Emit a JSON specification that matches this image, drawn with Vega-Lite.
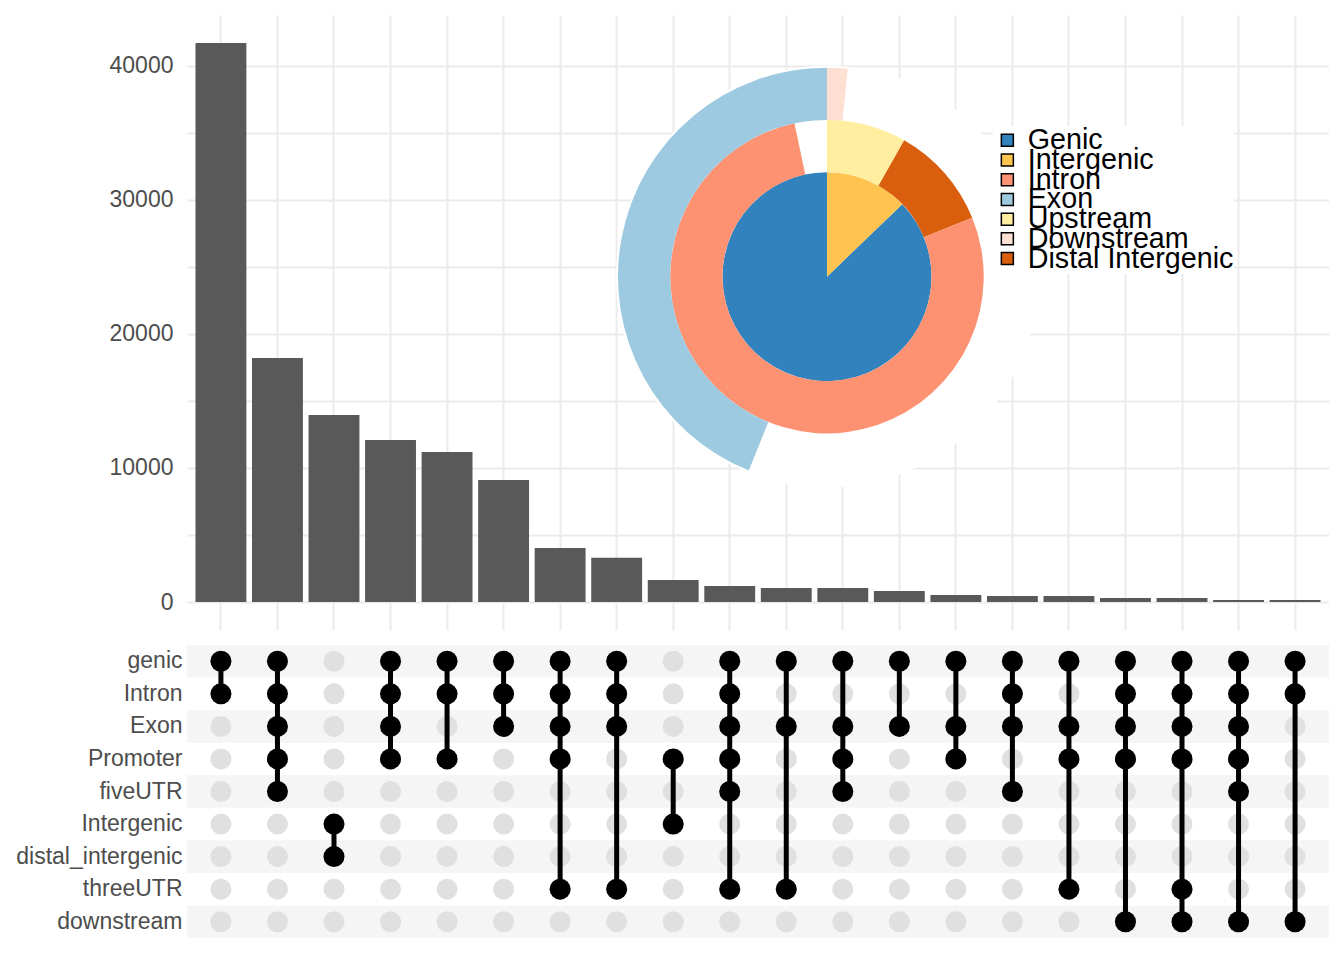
{
  "$schema": "https://vega.github.io/schema/vega-lite/v6.json",
  "autosize": {"type": "pad"},
  "padding": {"left": 15, "top": 15, "right": 0, "bottom": 0},
  "background": "white",
  "bounds": "flush",
  "spacing": 15,
  "config": {
    "view": {"stroke": null},
    "font": "Liberation Sans",
    "axis": {"labelFont": "Liberation Sans"},
    "legend": {"labelFont": "Liberation Sans", "rowPadding": -10.3, "gridAlign": "none"}
  },
  "datasets": {
    "bars": [
      {"c": 1, "n": 41700}, {"c": 2, "n": 18210}, {"c": 3, "n": 13950}, {"c": 4, "n": 12090},
      {"c": 5, "n": 11190}, {"c": 6, "n": 9100}, {"c": 7, "n": 4040}, {"c": 8, "n": 3300},
      {"c": 9, "n": 1650}, {"c": 10, "n": 1200}, {"c": 11, "n": 1050}, {"c": 12, "n": 1050},
      {"c": 13, "n": 820}, {"c": 14, "n": 520}, {"c": 15, "n": 450}, {"c": 16, "n": 450},
      {"c": 17, "n": 300}, {"c": 18, "n": 300}, {"c": 19, "n": 150}, {"c": 20, "n": 150}
    ],
    "pie": [
      {"cat": "Genic", "t0": 0.128, "t1": 1, "r0": 0, "r1": 2},
      {"cat": "Intergenic", "t0": 0, "t1": 0.128, "r0": 0, "r1": 2},
      {"cat": "Upstream", "t0": 0, "t1": 0.082, "r0": 2, "r1": 3},
      {"cat": "Distal Intergenic", "t0": 0.082, "t1": 0.1886, "r0": 2, "r1": 3},
      {"cat": "Intron", "t0": 0.1886, "t1": 0.9667, "r0": 2, "r1": 3},
      {"cat": "Downstream", "t0": 0, "t1": 0.0158, "r0": 3, "r1": 4},
      {"cat": "Exon", "t0": 0.561, "t1": 1, "r0": 3, "r1": 4}
    ],
    "stripes": [
      {"s": "genic", "g": 1}, {"s": "Intron", "g": 0}, {"s": "Exon", "g": 1},
      {"s": "Promoter", "g": 0}, {"s": "fiveUTR", "g": 1}, {"s": "Intergenic", "g": 0},
      {"s": "distal_intergenic", "g": 1}, {"s": "threeUTR", "g": 0}, {"s": "downstream", "g": 1}
    ],
    "cells": [
      {"c":1,"s":"genic","m":1},{"c":1,"s":"Intron","m":1},{"c":1,"s":"Exon","m":0},{"c":1,"s":"Promoter","m":0},{"c":1,"s":"fiveUTR","m":0},{"c":1,"s":"Intergenic","m":0},{"c":1,"s":"distal_intergenic","m":0},{"c":1,"s":"threeUTR","m":0},{"c":1,"s":"downstream","m":0},
      {"c":2,"s":"genic","m":1},{"c":2,"s":"Intron","m":1},{"c":2,"s":"Exon","m":1},{"c":2,"s":"Promoter","m":1},{"c":2,"s":"fiveUTR","m":1},{"c":2,"s":"Intergenic","m":0},{"c":2,"s":"distal_intergenic","m":0},{"c":2,"s":"threeUTR","m":0},{"c":2,"s":"downstream","m":0},
      {"c":3,"s":"genic","m":0},{"c":3,"s":"Intron","m":0},{"c":3,"s":"Exon","m":0},{"c":3,"s":"Promoter","m":0},{"c":3,"s":"fiveUTR","m":0},{"c":3,"s":"Intergenic","m":1},{"c":3,"s":"distal_intergenic","m":1},{"c":3,"s":"threeUTR","m":0},{"c":3,"s":"downstream","m":0},
      {"c":4,"s":"genic","m":1},{"c":4,"s":"Intron","m":1},{"c":4,"s":"Exon","m":1},{"c":4,"s":"Promoter","m":1},{"c":4,"s":"fiveUTR","m":0},{"c":4,"s":"Intergenic","m":0},{"c":4,"s":"distal_intergenic","m":0},{"c":4,"s":"threeUTR","m":0},{"c":4,"s":"downstream","m":0},
      {"c":5,"s":"genic","m":1},{"c":5,"s":"Intron","m":1},{"c":5,"s":"Exon","m":0},{"c":5,"s":"Promoter","m":1},{"c":5,"s":"fiveUTR","m":0},{"c":5,"s":"Intergenic","m":0},{"c":5,"s":"distal_intergenic","m":0},{"c":5,"s":"threeUTR","m":0},{"c":5,"s":"downstream","m":0},
      {"c":6,"s":"genic","m":1},{"c":6,"s":"Intron","m":1},{"c":6,"s":"Exon","m":1},{"c":6,"s":"Promoter","m":0},{"c":6,"s":"fiveUTR","m":0},{"c":6,"s":"Intergenic","m":0},{"c":6,"s":"distal_intergenic","m":0},{"c":6,"s":"threeUTR","m":0},{"c":6,"s":"downstream","m":0},
      {"c":7,"s":"genic","m":1},{"c":7,"s":"Intron","m":1},{"c":7,"s":"Exon","m":1},{"c":7,"s":"Promoter","m":1},{"c":7,"s":"fiveUTR","m":0},{"c":7,"s":"Intergenic","m":0},{"c":7,"s":"distal_intergenic","m":0},{"c":7,"s":"threeUTR","m":1},{"c":7,"s":"downstream","m":0},
      {"c":8,"s":"genic","m":1},{"c":8,"s":"Intron","m":1},{"c":8,"s":"Exon","m":1},{"c":8,"s":"Promoter","m":0},{"c":8,"s":"fiveUTR","m":0},{"c":8,"s":"Intergenic","m":0},{"c":8,"s":"distal_intergenic","m":0},{"c":8,"s":"threeUTR","m":1},{"c":8,"s":"downstream","m":0},
      {"c":9,"s":"genic","m":0},{"c":9,"s":"Intron","m":0},{"c":9,"s":"Exon","m":0},{"c":9,"s":"Promoter","m":1},{"c":9,"s":"fiveUTR","m":0},{"c":9,"s":"Intergenic","m":1},{"c":9,"s":"distal_intergenic","m":0},{"c":9,"s":"threeUTR","m":0},{"c":9,"s":"downstream","m":0},
      {"c":10,"s":"genic","m":1},{"c":10,"s":"Intron","m":1},{"c":10,"s":"Exon","m":1},{"c":10,"s":"Promoter","m":1},{"c":10,"s":"fiveUTR","m":1},{"c":10,"s":"Intergenic","m":0},{"c":10,"s":"distal_intergenic","m":0},{"c":10,"s":"threeUTR","m":1},{"c":10,"s":"downstream","m":0},
      {"c":11,"s":"genic","m":1},{"c":11,"s":"Intron","m":0},{"c":11,"s":"Exon","m":1},{"c":11,"s":"Promoter","m":0},{"c":11,"s":"fiveUTR","m":0},{"c":11,"s":"Intergenic","m":0},{"c":11,"s":"distal_intergenic","m":0},{"c":11,"s":"threeUTR","m":1},{"c":11,"s":"downstream","m":0},
      {"c":12,"s":"genic","m":1},{"c":12,"s":"Intron","m":0},{"c":12,"s":"Exon","m":1},{"c":12,"s":"Promoter","m":1},{"c":12,"s":"fiveUTR","m":1},{"c":12,"s":"Intergenic","m":0},{"c":12,"s":"distal_intergenic","m":0},{"c":12,"s":"threeUTR","m":0},{"c":12,"s":"downstream","m":0},
      {"c":13,"s":"genic","m":1},{"c":13,"s":"Intron","m":0},{"c":13,"s":"Exon","m":1},{"c":13,"s":"Promoter","m":0},{"c":13,"s":"fiveUTR","m":0},{"c":13,"s":"Intergenic","m":0},{"c":13,"s":"distal_intergenic","m":0},{"c":13,"s":"threeUTR","m":0},{"c":13,"s":"downstream","m":0},
      {"c":14,"s":"genic","m":1},{"c":14,"s":"Intron","m":0},{"c":14,"s":"Exon","m":1},{"c":14,"s":"Promoter","m":1},{"c":14,"s":"fiveUTR","m":0},{"c":14,"s":"Intergenic","m":0},{"c":14,"s":"distal_intergenic","m":0},{"c":14,"s":"threeUTR","m":0},{"c":14,"s":"downstream","m":0},
      {"c":15,"s":"genic","m":1},{"c":15,"s":"Intron","m":1},{"c":15,"s":"Exon","m":1},{"c":15,"s":"Promoter","m":0},{"c":15,"s":"fiveUTR","m":1},{"c":15,"s":"Intergenic","m":0},{"c":15,"s":"distal_intergenic","m":0},{"c":15,"s":"threeUTR","m":0},{"c":15,"s":"downstream","m":0},
      {"c":16,"s":"genic","m":1},{"c":16,"s":"Intron","m":0},{"c":16,"s":"Exon","m":1},{"c":16,"s":"Promoter","m":1},{"c":16,"s":"fiveUTR","m":0},{"c":16,"s":"Intergenic","m":0},{"c":16,"s":"distal_intergenic","m":0},{"c":16,"s":"threeUTR","m":1},{"c":16,"s":"downstream","m":0},
      {"c":17,"s":"genic","m":1},{"c":17,"s":"Intron","m":1},{"c":17,"s":"Exon","m":1},{"c":17,"s":"Promoter","m":1},{"c":17,"s":"fiveUTR","m":0},{"c":17,"s":"Intergenic","m":0},{"c":17,"s":"distal_intergenic","m":0},{"c":17,"s":"threeUTR","m":0},{"c":17,"s":"downstream","m":1},
      {"c":18,"s":"genic","m":1},{"c":18,"s":"Intron","m":1},{"c":18,"s":"Exon","m":1},{"c":18,"s":"Promoter","m":1},{"c":18,"s":"fiveUTR","m":0},{"c":18,"s":"Intergenic","m":0},{"c":18,"s":"distal_intergenic","m":0},{"c":18,"s":"threeUTR","m":1},{"c":18,"s":"downstream","m":1},
      {"c":19,"s":"genic","m":1},{"c":19,"s":"Intron","m":1},{"c":19,"s":"Exon","m":1},{"c":19,"s":"Promoter","m":1},{"c":19,"s":"fiveUTR","m":1},{"c":19,"s":"Intergenic","m":0},{"c":19,"s":"distal_intergenic","m":0},{"c":19,"s":"threeUTR","m":0},{"c":19,"s":"downstream","m":1},
      {"c":20,"s":"genic","m":1},{"c":20,"s":"Intron","m":1},{"c":20,"s":"Exon","m":0},{"c":20,"s":"Promoter","m":0},{"c":20,"s":"fiveUTR","m":0},{"c":20,"s":"Intergenic","m":0},{"c":20,"s":"distal_intergenic","m":0},{"c":20,"s":"threeUTR","m":0},{"c":20,"s":"downstream","m":1}
    ]
  },
  "vconcat": [
    {
      "width": 1142,
      "height": 615,
      "layer": [
        {
          "data": {"name": "bars"},
          "mark": {"type": "bar", "color": "#595959"},
          "encoding": {
            "x": {
              "field": "c", "type": "ordinal",
              "scale": {"type": "band", "paddingInner": 0.1, "paddingOuter": 0.15},
              "axis": {"labels": false, "ticks": false, "domain": false, "title": null, "grid": true, "gridColor": "#ebebeb", "gridWidth": 2, "bandPosition": 0.5}
            },
            "y": {
              "field": "n", "type": "quantitative",
              "scale": {"domain": [-2085, 43785], "nice": false, "zero": false},
              "axis": {
                "values": [0, 5000, 10000, 15000, 20000, 25000, 30000, 35000, 40000],
                "labelExpr": "datum.value % 10000 === 0 ? format(datum.value, 'd') : ''",
                "ticks": false, "domain": false, "title": null,
                "labelFontSize": 23, "labelColor": "#4d4d4d", "labelPadding": 14,
                "gridColor": "#ebebeb", "gridWidth": 2
              }
            },
            "y2": {"datum": 0}
          }
        },
        {
          "data": {"values": [{"bg": 1}]},
          "mark": {"type": "arc", "fill": "white", "theta": 0, "theta2": 6.2832, "radius": 211, "radius2": 0},
          "encoding": {
            "x": {"datum": 0.5604, "type": "quantitative", "scale": {"domain": [0, 1], "nice": false, "zero": false}, "axis": null},
            "y": {"datum": 24270, "type": "quantitative"}
          }
        },
        {
          "data": {"name": "pie"},
          "mark": {"type": "arc"},
          "encoding": {
            "x": {"datum": 0.5604, "type": "quantitative", "scale": {"domain": [0, 1], "nice": false, "zero": false}, "axis": null},
            "y": {"datum": 24270, "type": "quantitative"},
            "theta": {"field": "t0", "type": "quantitative", "stack": null, "scale": {"domain": [0, 1], "range": [0, 6.283185307]}},
            "theta2": {"field": "t1"},
            "radius": {"field": "r1", "type": "quantitative", "scale": {"type": "linear", "domain": [0, 4], "range": [0, 209], "zero": true, "nice": false}},
            "radius2": {"field": "r0"},
            "color": {
              "field": "cat", "type": "nominal",
              "scale": {
                "domain": ["Genic", "Intergenic", "Intron", "Exon", "Upstream", "Downstream", "Distal Intergenic"],
                "range": ["#3182bd", "#fec44f", "#fc9272", "#9ecae1", "#ffeda0", "#fee0d2", "#d95f0e"]
              },
              "legend": {
                "orient": "none", "legendX": 806, "legendY": 111, "title": null, "padding": 0,
                "fillColor": "white",
                "symbolType": "square", "symbolSize": 144, "symbolStrokeColor": "black", "symbolStrokeWidth": 1.5, "symbolOpacity": 1,
                "labelFontSize": 28.7, "labelColor": "black", "labelOffset": 6, "rowPadding": -10.3, "labelLimit": 400
              }
            }
          }
        }
      ],
      "resolve": {"scale": {"x": "independent"}, "axis": {"x": "independent"}}
    },
    {
      "width": 1142,
      "height": 293,
      "layer": [
        {
          "data": {"name": "stripes"},
          "transform": [{"filter": "datum.g == 1"}],
          "mark": {"type": "rect", "color": "#f5f5f5"},
          "encoding": {
            "y": {
              "field": "s", "type": "nominal",
              "scale": {"type": "band", "domain": ["genic", "Intron", "Exon", "Promoter", "fiveUTR", "Intergenic", "distal_intergenic", "threeUTR", "downstream"], "paddingInner": 0, "paddingOuter": 0},
              "axis": {"ticks": false, "domain": false, "title": null, "grid": false, "labelFontSize": 23, "labelColor": "#4d4d4d", "labelPadding": 5, "labelLimit": 400}
            }
          }
        },
        {
          "data": {"name": "cells"},
          "mark": {"type": "circle", "size": 441, "opacity": 1, "color": "#e0e0e0"},
          "encoding": {
            "x": {"field": "c", "type": "ordinal", "scale": {"type": "band", "paddingInner": 0.1, "paddingOuter": 0.15}, "axis": null},
            "y": {"field": "s", "type": "nominal", "scale": {"type": "band", "domain": ["genic", "Intron", "Exon", "Promoter", "fiveUTR", "Intergenic", "distal_intergenic", "threeUTR", "downstream"], "paddingInner": 0, "paddingOuter": 0}}
          }
        },
        {
          "data": {"name": "cells"},
          "transform": [{"filter": "datum.m == 1"}],
          "mark": {"type": "line", "color": "black", "strokeWidth": 5},
          "encoding": {
            "x": {"field": "c", "type": "ordinal", "scale": {"type": "band", "paddingInner": 0.1, "paddingOuter": 0.15}, "axis": null},
            "y": {"field": "s", "type": "nominal", "scale": {"type": "band", "domain": ["genic", "Intron", "Exon", "Promoter", "fiveUTR", "Intergenic", "distal_intergenic", "threeUTR", "downstream"], "paddingInner": 0, "paddingOuter": 0}},
            "detail": {"field": "c", "type": "nominal"}
          }
        },
        {
          "data": {"name": "cells"},
          "transform": [{"filter": "datum.m == 1"}],
          "mark": {"type": "circle", "size": 441, "opacity": 1, "color": "black"},
          "encoding": {
            "x": {"field": "c", "type": "ordinal", "scale": {"type": "band", "paddingInner": 0.1, "paddingOuter": 0.15}, "axis": null},
            "y": {"field": "s", "type": "nominal", "scale": {"type": "band", "domain": ["genic", "Intron", "Exon", "Promoter", "fiveUTR", "Intergenic", "distal_intergenic", "threeUTR", "downstream"], "paddingInner": 0, "paddingOuter": 0}}
          }
        }
      ]
    }
  ]
}
